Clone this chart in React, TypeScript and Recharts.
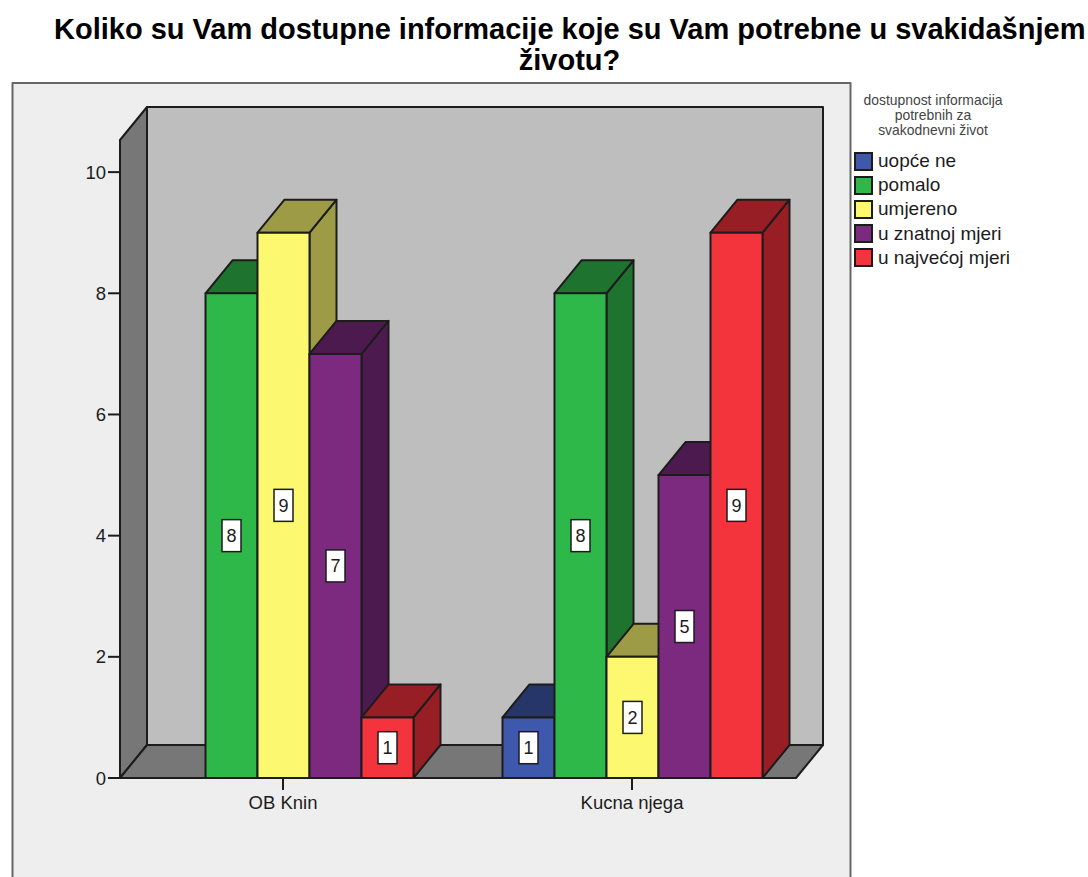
import { BarChart, Bar, XAxis, YAxis, Legend, LabelList } from 'recharts';

const categories = ['OB Knin', 'Kucna njega'];
const uopceNe = [null, 1];
const pomalo = [8, 8];
const umjereno = [9, 2];
const uZnatnojMjeri = [7, 5];
const uNajvecojMjeri = [1, 9];
const yTicks = [0, 2, 4, 6, 8, 10];

const seriesNames = ['uopće ne', 'pomalo', 'umjereno', 'u znatnoj mjeri', 'u najvećoj mjeri'];
const seriesValues = [uopceNe, pomalo, umjereno, uZnatnojMjeri, uNajvecojMjeri];
const frontColors = ['#3e58ac', '#2fb84a', '#fcf870', '#7b2a80', '#f3343c'];
const sideColors = ['#263669', '#1e732e', '#9d9b46', '#4d1a50', '#981e25'];
const legendTitle = ['dostupnost informacija', 'potrebnih za', 'svakodnevni život'];

const data = categories.map((name, i) => {
  const row: Record<string, string | number | null> = { name };
  seriesNames.forEach((s, j) => {
    row[s] = seriesValues[j][i];
  });
  return row;
});

const FONT = '"Liberation Sans", Arial, sans-serif';
const INK = '#1c1c1c';
const DX = 27;
const DY = 33;

const Bar3D = (props: any) => {
  const { x, y, width, height, fill, side } = props;
  if (!height) return null;
  const r = x + width;
  const b = y + height;
  const points = (p: number[][]) => p.map((a) => a.join(',')).join(' ');
  return (
    <g stroke={INK} strokeWidth={2} strokeLinejoin="round">
      <polygon fill={side} points={points([[r, y], [r + DX, y - DY], [r + DX, b - DY], [r, b]])} />
      <polygon fill={side} points={points([[x, y], [x + DX, y - DY], [r + DX, y - DY], [r, y]])} />
      <rect x={x} y={y} width={width} height={height} fill={fill} />
    </g>
  );
};

const ValueBox = (props: any) => {
  const { x, y, width, height, value } = props;
  if (value === null || value === undefined) return null;
  const cx = x + width / 2;
  const cy = y + height / 2;
  return (
    <g>
      <rect x={cx - 9.5} y={cy - 16} width={19} height={32} fill="#fff" stroke={INK} strokeWidth={1.5} />
      <text x={cx} y={cy + 6.5} textAnchor="middle" fontFamily={FONT} fontSize={18} fill={INK}>
        {value}
      </text>
    </g>
  );
};

const Walls = () => (
  <g stroke={INK} strokeWidth={2} strokeLinejoin="round">
    <rect x={12.5} y={83} width={838} height={820} fill="#eeeeee" stroke="#666" />
    <polygon points="147,107 823,107 823,745 147,745" fill="#bebebe" />
    <polygon points="120,140 147,107 147,745 120,778" fill="#777777" />
    <polygon points="120,778 147,745 823,745 796,778" fill="#777777" />
  </g>
);

const LegendBox = ({ payload }: any) => (
  <div style={{ fontFamily: FONT }}>
    <div style={{ fontSize: 13.9, lineHeight: '15px', color: '#444', textAlign: 'center', width: 170, marginLeft: -6 }}>
      {legendTitle.map((t) => (
        <div key={t}>{t}</div>
      ))}
    </div>
    <div style={{ marginTop: 11 }}>
      {(payload || []).map((p: any) => (
        <div key={p.value} style={{ display: 'flex', alignItems: 'center', height: 24.2 }}>
          <span
            style={{
              width: 15,
              height: 15,
              background: p.color,
              border: `2px solid ${INK}`,
              marginRight: 5,
              flex: 'none',
            }}
          />
          <span style={{ fontSize: 19, color: INK, whiteSpace: 'nowrap' }}>{p.value}</span>
        </div>
      ))}
    </div>
  </div>
);

export default function App() {
  return (
    <div style={{ position: 'absolute', left: 0, top: 0, width: 1088, height: 877, overflow: 'hidden', background: '#fff' }}>
      <div
        style={{
          position: 'absolute',
          left: 54,
          top: 14,
          width: 1031,
          textAlign: 'center',
          fontFamily: FONT,
          fontWeight: 700,
          fontSize: 29,
          lineHeight: '31px',
          color: '#000',
          whiteSpace: 'nowrap',
        }}
      >
        Koliko su Vam dostupne informacije koje su Vam potrebne u svakidašnjem
        <br />
        životu?
      </div>
      <BarChart
        width={1088}
        height={877}
        data={data}
        margin={{ top: 140, right: 62, bottom: 0, left: 0 }}
        barCategoryGap={45}
        barGap={0}
        style={{ position: 'absolute', left: 0, top: 0 }}
      >
        <Walls />
        <XAxis
          dataKey="name"
          height={99}
          padding={{ left: -11.5, right: -10.5 }}
          tickSize={12}
          tickMargin={6}
          stroke={INK}
          tick={{ fontFamily: FONT, fontSize: 18.5, fill: INK }}
          axisLine={{ stroke: INK, strokeWidth: 2 }}
          tickLine={{ stroke: INK, strokeWidth: 2 }}
        />
        <YAxis
          width={120}
          domain={[0, 10.53]}
          ticks={yTicks}
          tickSize={12}
          tickMargin={2}
          tick={{ fontFamily: FONT, fontSize: 18.5, fill: INK }}
          axisLine={{ stroke: INK, strokeWidth: 2 }}
          tickLine={{ stroke: INK, strokeWidth: 2 }}
        />
        <Legend
          content={<LegendBox />}
          itemSorter={null}
          layout="vertical"
          verticalAlign="top"
          align="right"
          wrapperStyle={{ position: 'absolute', left: 854, top: 93, width: 230 }}
        />
        {seriesNames.map((s, i) => (
          <Bar
            key={s}
            dataKey={s}
            name={s}
            fill={frontColors[i]}
            isAnimationActive={false}
            shape={(p: any) => <Bar3D {...p} side={sideColors[i]} />}
          >
            <LabelList dataKey={s} content={<ValueBox />} />
          </Bar>
        ))}
      </BarChart>
    </div>
  );
}
